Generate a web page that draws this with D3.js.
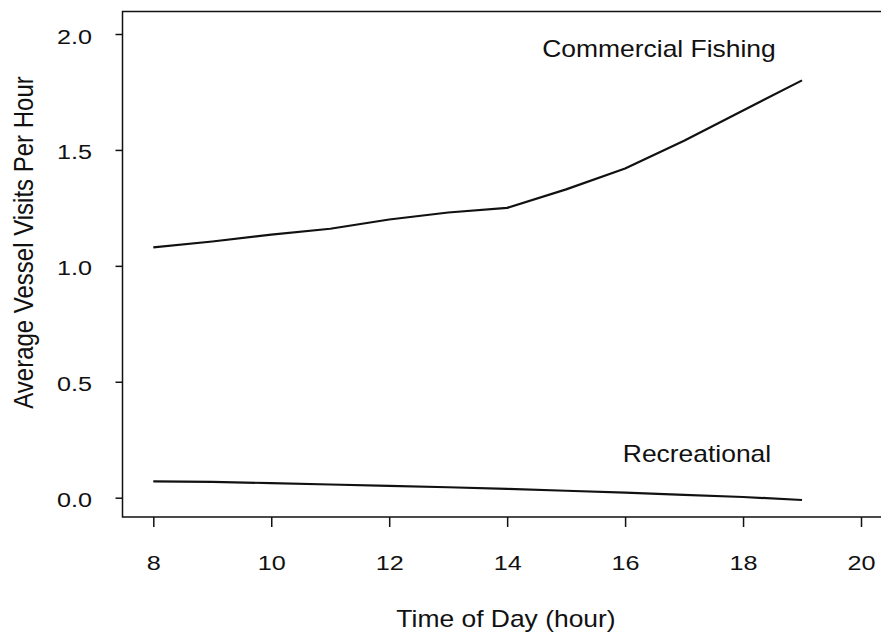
<!DOCTYPE html>
<html>
<head>
<meta charset="utf-8">
<script src="https://cdn.jsdelivr.net/npm/d3@7/dist/d3.min.js"></script>
<style>
  html, body { margin: 0; padding: 0; background: #fff; }
  svg { display: block; }
  text { font-family: "Liberation Sans", Arial, Helvetica, sans-serif; fill: #111; }
</style>
</head>
<body>
<svg id="chart" width="881" height="637"></svg>
<script>
// ---- data ----
const hours = [8, 9, 10, 11, 12, 13, 14, 15, 16, 17, 18, 19];
const commercial = [1.08, 1.105, 1.135, 1.16, 1.20, 1.23, 1.25, 1.33, 1.42, 1.54, 1.67, 1.80];
const recreational = [0.07, 0.068, 0.063, 0.057, 0.051, 0.045, 0.038, 0.030, 0.022, 0.012, 0.003, -0.01];
const xTicks = [8, 10, 12, 14, 16, 18, 20];
const yTicks = [0.0, 0.5, 1.0, 1.5, 2.0];
const seriesNames = ["Commercial Fishing", "Recreational"];
const xTitle = "Time of Day (hour)";
const yTitle = "Average Vessel Visits Per Hour";

// ---- layout ----
const svg = d3.select("#chart");
const box = { left: 122.5, top: 11.5, right: 890, bottom: 517 };
const x = d3.scaleLinear().domain([8, 20]).range([153.3, 861]);
const y = d3.scaleLinear().domain([0, 2]).range([497.7, 34]);
const sxT = 1.15; // horizontal stretch of the scanned type (titles)
const sxK = 1.2;  // horizontal stretch (tick labels)

// plot frame
svg.append("path")
  .attr("d", `M${box.right},${box.top}H${box.left}V${box.bottom}H${box.right}`)
  .attr("fill", "none").attr("stroke", "#111").attr("stroke-width", 1.5);

// x axis
const gx = svg.append("g").attr("transform", `translate(0,${box.bottom})`)
  .call(d3.axisBottom(x).tickValues(xTicks).tickSize(10).tickFormat(d3.format("d")));
gx.select(".domain").remove();
gx.selectAll(".tick line").attr("stroke", "#111").attr("stroke-width", 1.5);
gx.selectAll(".tick text")
  .attr("y", 0).attr("dy", 0)
  .attr("transform", `translate(0,53) scale(${sxK},1)`)
  .style("font-size", "21px").attr("fill", "#111");

// y axis
const gy = svg.append("g").attr("transform", `translate(${box.left},0)`)
  .call(d3.axisLeft(y).tickValues(yTicks).tickSize(7).tickFormat(d3.format(".1f")));
gy.select(".domain").remove();
gy.selectAll(".tick line").attr("stroke", "#111").attr("stroke-width", 1.5);
gy.selectAll(".tick text")
  .attr("x", 0).attr("dy", "0.36em")
  .attr("transform", `translate(-30.5,1.5) scale(${sxK},1)`)
  .style("font-size", "21px").attr("fill", "#111");

// lines
const line = d3.line().x((d, i) => x(hours[i])).y(d => y(d));
[commercial, recreational].forEach(s => {
  svg.append("path").datum(s)
    .attr("d", line)
    .attr("fill", "none").attr("stroke", "#111")
    .attr("stroke-width", 2.2).attr("stroke-linejoin", "round");
});

// series labels
svg.append("text").text(seriesNames[0])
  .attr("text-anchor", "middle")
  .attr("transform", `translate(659,57.3) scale(${sxT},1)`)
  .style("font-size", "23px");
svg.append("text").text(seriesNames[1])
  .attr("text-anchor", "middle")
  .attr("transform", `translate(697,462.3) scale(${sxT},1)`)
  .style("font-size", "23px");

// axis titles
svg.append("text").text(xTitle)
  .attr("text-anchor", "middle")
  .attr("transform", `translate(506,627.3) scale(${sxT},1)`)
  .style("font-size", "23px");
svg.append("text").text(yTitle)
  .attr("text-anchor", "middle")
  .attr("transform", `translate(32.5,242.5) scale(${sxT},1) rotate(-90)`)
  .style("font-size", "24px");
</script>
</body>
</html>
